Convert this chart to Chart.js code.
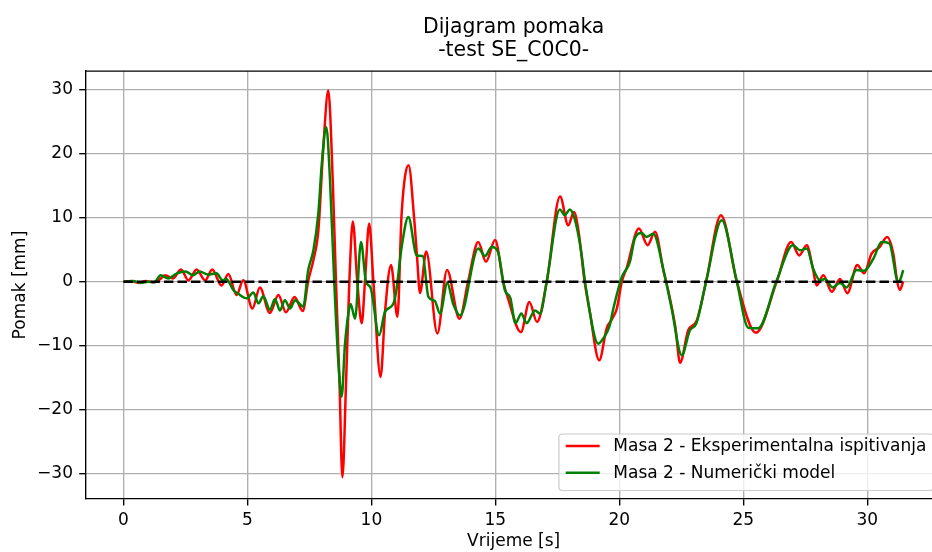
<!DOCTYPE html>
<html><head><meta charset="utf-8">
<script src="https://cdn.jsdelivr.net/npm/chart.js@4/dist/chart.umd.min.js"></script>
<style>
html,body{margin:0;padding:0;background:#fff;overflow:hidden;}
#wrap{width:932px;height:552px;position:relative;overflow:hidden;}
</style>
</head><body><div id="wrap"><canvas id="c" width="951" height="552"></canvas></div>
<script>
const chartTitle = ['Dijagram pomaka', '-test SE_C0C0-'];
const xAxisLabel = 'Vrijeme [s]';
const yAxisLabel = 'Pomak [mm]';
const seriesLabels = ['Masa 2 - Eksperimentalna ispitivanja', 'Masa 2 - Numerički model'];
const xTicks = [0, 5, 10, 15, 20, 25, 30];
const yTicks = [-30, -20, -10, 0, 10, 20, 30];

const timeExp = [0,0.3,0.6,0.9,1.2,1.45,1.68,2.0,2.32,2.62,2.95,3.29,3.58,3.95,4.23,4.56,4.83,5.2,5.5,5.9,6.25,6.55,6.9,7.23,7.45,7.66,7.86,8.06,8.26,8.44,8.57,8.71,8.83,8.98,9.11,9.25,9.43,9.61,9.74,9.91,10.08,10.37,10.55,10.79,11.05,11.22,11.5,11.72,11.84,11.96,12.21,12.66,13.05,13.55,13.9,14.31,14.62,14.99,15.32,15.5,16.03,16.37,16.68,17.07,17.61,17.94,18.17,18.35,18.6,18.8,19.19,19.49,19.7,19.9,20.1,20.3,20.79,21.14,21.44,21.78,22.0,22.26,22.45,22.78,23.12,23.5,24.1,24.74,25.51,26.35,26.93,27.26,27.56,27.8,27.96,28.23,28.57,28.9,29.2,29.6,29.87,30.18,30.5,30.8,31.05,31.21,31.32,31.45];
const dispExp = [0,0.1,-0.2,0.1,-0.1,0.3,1.0,0.5,1.9,0.2,1.9,0.2,1.9,-0.6,1.2,-2.1,0.2,-4.2,-0.9,-4.9,-2.1,-4.8,-2.4,-4.6,0.1,3.4,8.0,21.0,29.9,15.9,0,-15.4,-30.6,-15.4,0,9.4,0,-6.5,0,9.1,0,-14.9,-4.7,2.6,-5.5,10.7,18.2,10.1,3.9,-1.8,4.7,-8.1,1.8,-5.8,0,6.2,3.1,6.5,-0.1,-2.5,-7.9,-3.2,-6.3,-0.1,13.3,8.8,10.9,8.0,0,-4.5,-12.3,-7.3,-5.9,-4.2,0,2.2,8.3,5.7,7.8,1.7,-1.9,-7.1,-12.7,-7.6,-6.1,0,10.4,0,-8.0,0,6.2,4.1,5.7,2.2,-0.6,1.0,-1.6,0.4,-1.8,2.6,1.3,4.4,5.4,7.0,4.4,0,-1.3,0];

const timeNum = [0,0.4,0.7,1.0,1.25,1.5,1.8,2.15,2.5,2.8,3.08,3.4,3.75,4.0,4.15,4.43,4.63,4.97,5.24,5.44,5.64,5.91,6.11,6.31,6.51,6.72,6.92,7.25,7.45,7.66,7.86,8.0,8.18,8.33,8.5,8.67,8.8,8.93,9.07,9.16,9.34,9.58,9.78,9.97,10.31,10.55,10.88,11.0,11.22,11.49,11.83,12.07,12.3,12.55,12.77,13.06,13.3,13.58,14.31,14.58,14.85,15.1,15.39,15.6,15.81,16.05,16.26,16.6,16.8,17.07,17.6,17.8,18.0,18.2,18.45,18.65,19.15,19.4,19.6,19.76,20.1,20.42,20.63,20.9,21.1,21.37,21.8,22.1,22.52,22.85,23.1,23.5,24.13,24.74,25.2,25.6,26.35,27.0,27.3,27.56,27.83,28.1,28.3,28.6,28.9,29.17,29.57,29.87,30.25,30.58,30.89,31.25,31.35,31.45];
const dispNum = [0,0.1,-0.2,0.0,-0.1,1.0,0.5,1.3,1.6,1.0,1.6,1.1,1.3,0.2,0.4,-1.3,-1.9,-2.6,-1.7,-3.4,-2.3,-4.4,-2.7,-4.5,-2.9,-4.2,-2.9,-3.9,1.8,4.9,10.7,18.5,24.2,15.9,0,-12.8,-18.0,-10.0,-5.0,-3.5,-5.8,6.2,0,-1.0,-8.4,-4.7,-3.5,-1.5,5.4,10.1,4.1,4.0,-2.4,-3.0,-5.0,-0.2,-3.5,-5.3,5.2,4.0,5.4,4.7,-1.4,-2.5,-6.5,-5.0,-6.5,-4.5,-5.0,0,11.3,10.4,11.3,9.8,5.0,-0.9,-9.7,-8.6,-7.0,-4.2,0.7,3.0,6.8,7.6,7.0,7.5,1.5,-4.0,-11.5,-7.6,-6.6,0,9.6,0,-7.2,-7.3,0.2,5.7,4.9,5.2,1.9,0.2,0.4,-0.9,-0.2,-0.9,1.8,1.7,3.6,6.2,6.0,0,0.5,1.8];

const refTime = [0, 31.45];
const refDisp = [0, 0];

const FONT = 'DejaVu Sans';
const pts = (xs, ys) => xs.map((x, i) => ({x: x, y: ys[i]}));
const fmt = v => String(v).replace('-', '\u2212');

Chart.defaults.font.family = FONT;
Chart.defaults.color = '#000';

const framePlugin = {
  id: 'frameAndLegend',
  afterDraw(chart) {
    const ctx = chart.ctx, a = chart.chartArea;
    ctx.save();
    ctx.strokeStyle = '#000';
    ctx.lineWidth = 1.36;
    ctx.beginPath();
    ctx.moveTo(a.left, a.top); ctx.lineTo(a.right, a.top); ctx.lineTo(a.right, a.bottom);
    ctx.stroke();
    const fs = 17;
    ctx.font = fs + 'px "' + FONT + '"';
    const items = [{label: seriesLabels[0], color: '#ff0000'}, {label: seriesLabels[1], color: '#008000'}];
    let tw = 0;
    items.forEach(it => { tw = Math.max(tw, ctx.measureText(it.label).width); });
    const pad = 0.4 * fs, hl = 2 * fs, htp = 0.8 * fs;
    const right = a.right - 8.5, bottom = a.bottom - 8.5;
    const w = pad + hl + htp + tw + pad;
    const left = right - w;
    const row2 = bottom - 17.8, row1 = row2 - 26.7;
    const top = row1 - 12;
    const r = 3.4;
    ctx.beginPath();
    ctx.moveTo(left + r, top);
    ctx.arcTo(right, top, right, bottom, r);
    ctx.arcTo(right, bottom, left, bottom, r);
    ctx.arcTo(left, bottom, left, top, r);
    ctx.arcTo(left, top, right, top, r);
    ctx.closePath();
    ctx.fillStyle = 'rgba(255,255,255,0.8)';
    ctx.fill();
    ctx.strokeStyle = '#cccccc';
    ctx.lineWidth = 1.2;
    ctx.stroke();
    [row1, row2].forEach((y, i) => {
      ctx.strokeStyle = items[i].color;
      ctx.lineWidth = 2.5;
      ctx.beginPath();
      ctx.moveTo(left + pad, y); ctx.lineTo(left + pad + hl, y);
      ctx.stroke();
      ctx.fillStyle = '#000';
      ctx.textAlign = 'left';
      ctx.textBaseline = 'middle';
      ctx.fillText(items[i].label, left + pad + hl + htp, y + 1);
    });
    ctx.restore();
  }
};

const gridOpts = {color: '#b0b0b0', lineWidth: 1.36, drawTicks: true, tickLength: 6.5, tickColor: '#000', tickWidth: 1.36};

new Chart(document.getElementById('c'), {
  type: 'line',
  data: {
    datasets: [
      {label: 'nula', data: pts(refTime, refDisp), borderColor: '#000', borderWidth: 2.5, borderDash: [9.4, 4.1], pointRadius: 0, order: 0},
      {label: seriesLabels[1], data: pts(timeNum, dispNum), borderColor: '#008000', borderWidth: 2.5, pointRadius: 0, cubicInterpolationMode: 'monotone', borderJoinStyle: 'round', order: 1},
      {label: seriesLabels[0], data: pts(timeExp, dispExp), borderColor: '#ff0000', borderWidth: 2.5, pointRadius: 0, cubicInterpolationMode: 'monotone', borderJoinStyle: 'round', order: 2}
    ]
  },
  options: {
    responsive: false,
    animation: false,
    events: [],
    layout: {padding: {left: 0, right: 9.4, top: 0, bottom: 0}},
    plugins: {
      legend: {display: false},
      tooltip: {enabled: false},
      title: {
        display: true, text: chartTitle, fullSize: false, color: '#000',
        font: {family: FONT, size: 20.4, weight: 'normal', lineHeight: 1.13},
        padding: {top: 16.5, bottom: 8.5}
      }
    },
    scales: {
      x: {
        type: 'linear', min: -1.525, max: 33.0,
        afterBuildTicks: s => { s.ticks = xTicks.map(v => ({value: v})); },
        afterFit: s => { s.height = 53; },
        grid: gridOpts,
        border: {display: true, color: '#000', width: 1.36},
        ticks: {font: {family: FONT, size: 17}, color: '#000', padding: 4.5, maxRotation: 0, autoSkip: false, callback: v => fmt(v)},
        title: {display: true, text: xAxisLabel, color: '#000', font: {family: FONT, size: 17}, padding: {top: 0, bottom: 0}}
      },
      y: {
        type: 'linear', min: -34.0, max: 32.93,
        afterBuildTicks: s => { s.ticks = yTicks.map(v => ({value: v})); },
        afterFit: s => { s.width = 85.7; },
        grid: gridOpts,
        border: {display: true, color: '#000', width: 1.36},
        ticks: {font: {family: FONT, size: 17}, color: '#000', padding: 6.2, autoSkip: false, callback: v => fmt(v)},
        title: {display: true, text: yAxisLabel, color: '#000', font: {family: FONT, size: 17}, padding: {top: 10, bottom: 0}}
      }
    }
  },
  plugins: [framePlugin]
});
</script>
</body></html>
